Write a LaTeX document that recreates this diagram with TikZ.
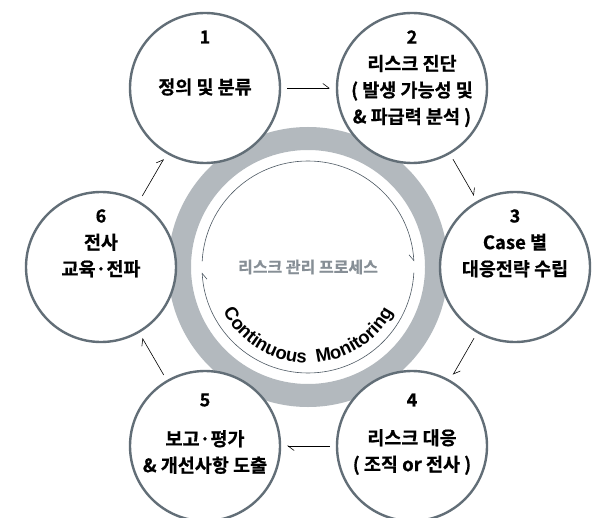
\documentclass[tikz,border=0pt]{standalone}
\usepackage{fontspec}
\setmainfont{Noto Sans CJK KR Bold}[FakeBold=0.7]
\newfontfamily\latinfont{Liberation Sans}[BoldFont={Liberation Sans Bold}]
\usetikzlibrary{arrows.meta,decorations.text}
\definecolor{ringgray}{RGB}{179,185,190}
\definecolor{rimgray}{RGB}{98,110,119}
\definecolor{loopgray}{RGB}{77,89,99}
\definecolor{titlegray}{RGB}{135,143,150}

\begin{document}
\begin{tikzpicture}[x=1pt,y=1pt,
  stage/.style={circle,draw=rimgray,line width=2.4pt,fill=white,minimum size=150pt,inner sep=0pt},
  num/.style={font=\fontsize{18}{20}\selectfont},
  txt/.style={font=\fontsize{18.5}{26.5}\selectfont,align=center},
  flow/.style={-{Straight Barb[left,length=6pt,width=9pt]},line width=0.6pt,shorten <=6pt,shorten >=6pt},
  cyc/.style={-{Straight Barb[right,length=6pt,width=9pt]},draw=loopgray,line width=0.6pt}]
\fill[white] (0,0) rectangle (609,517);
\useasboundingbox (0,0) rectangle (609,517);
\clip (0,0) rectangle (609,517);
\coordinate (ctr) at (308,250);
% centre ring
\fill[ringgray,even odd rule] (ctr) circle[radius=140] (ctr) circle[radius=117];
\draw[cyc] ([shift={(177:106)}]ctr) arc[start angle=177,end angle=3,radius=106];
\draw[cyc] ([shift={(-3:106)}]ctr) arc[start angle=-3,end angle=-177,radius=106];
\node[font=\fontsize{16}{18}\selectfont,text=titlegray] (title) at (ctr) {리스크 관리 프로세스};
\path[decorate,decoration={text along path,text align=center,
  text={|\latinfont\bfseries\fontsize{18.5}{18.5}\selectfont|Continuous{\ }{\ }Monitoring}}]
  ([shift={(-156:96)}]ctr) arc[start angle=-156,end angle=-24,radius=96];
% stages
\node[stage] (c1) at (205,429) {};
\node[stage] (c2) at (412,429) {};
\node[stage] (c3) at (515,250) {};
\node[stage] (c4) at (412,71) {};
\node[stage] (c5) at (205,71) {};
\node[stage] (c6) at (101,250) {};
\node[num] (n1) at ([yshift=51pt]c1.center) {1};
\node[txt] (t1) at ([yshift=1pt]c1.center) {정의 및 분류};
\node[num] (n2) at ([yshift=51pt]c2.center) {2};
\node[txt] (t2) at ([yshift=-3pt]c2.center) {리스크 진단\\( 발생 가능성 및\\\& 파급력 분석 )};
\node[num] (n3) at ([yshift=51pt]c3.center) {3};
\node[txt] (t3) at ([yshift=11.5pt]c3.center) {Case 별\\대응전략 수립};
\node[num] (n4) at ([yshift=46pt]c4.center) {4};
\node[txt] (t4) at ([yshift=-6pt]c4.center) {리스크 대응\\( 조직 or 전사 )};
\node[num] (n5) at ([yshift=46pt]c5.center) {5};
\node[txt] (t5) at ([yshift=-6pt]c5.center) {보고·평가\\\& 개선사항 도출};
\node[num] (n6) at ([yshift=51pt]c6.center) {6};
\node[txt] (t6) at ([yshift=11.5pt]c6.center) {전사\\교육·전파};
% connectors
\draw[flow] (c1) -- (c2);
\draw[flow] (c2) -- (c3);
\draw[flow] (c3) -- (c4);
\draw[flow] (c4) -- (c5);
\draw[flow] (c5) -- (c6);
\draw[flow] (c6) -- (c1);
\end{tikzpicture}
\end{document}
